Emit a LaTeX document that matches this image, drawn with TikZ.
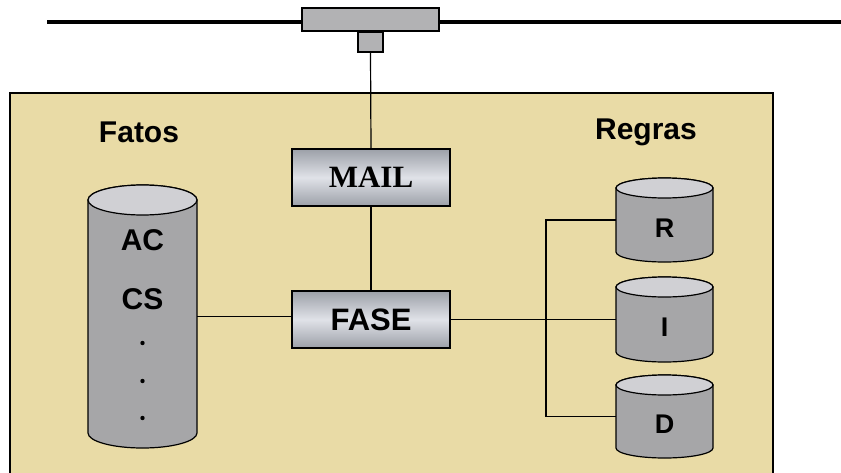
\documentclass[tikz,border=0pt]{standalone}
\usepackage{fontspec}
\setmainfont{Liberation Sans}
\newfontfamily\serifbold{Liberation Serif}
\definecolor{panelfill}{RGB}{233,219,166}
\definecolor{drumbody}{RGB}{166,166,168}
\definecolor{drumtop}{RGB}{208,208,212}
\definecolor{boxdark}{RGB}{156,160,168}
\definecolor{boxlight}{RGB}{224,226,232}
\definecolor{plug}{RGB}{178,178,180}
\tikzset{
  label text/.style={font=\bfseries\fontsize{30}{30}\selectfont, inner sep=0pt},
  drum letter/.style={font=\bfseries\fontsize{27}{27}\selectfont, inner sep=0pt},
  procbox/.style={draw, line width=1.6pt, minimum width=158pt, minimum height=57pt,
    top color=boxdark, bottom color=boxdark, middle color=boxlight, inner sep=0pt},
  drumline/.style={line width=1.2pt},
  wire/.style={line width=1.2pt},
}
% drum (cylinder) drawn around a named rectangular node
% #1 name, #2 cx, #3 cy, #4 half width, #5 half height, #6 end radius
\newcommand\drawdrum[6]{%
  \node[minimum width=2*#4pt, minimum height=2*#5pt, inner sep=0pt] (#1) at (#2,#3) {};
  \draw[drumline, fill=drumbody]
    (#2-#4,#3-#5+#6) -- (#2-#4,#3+#5-#6)
    arc[start angle=180, end angle=360, x radius=#4pt, y radius=#6pt]
    -- (#2+#4,#3-#5+#6)
    arc[start angle=0, end angle=180, x radius=#4pt, y radius=#6pt] -- cycle;
  \draw[drumline, fill=drumtop] (#2,#3-#5+#6) ellipse[x radius=#4pt, y radius=#6pt];
}
\begin{document}
\begin{tikzpicture}[x=1pt,y=-1pt]
\useasboundingbox (0,0) rectangle (841,472);
% backbone line
\coordinate (busL) at (47,22);
\coordinate (busR) at (845,22);
\draw[line width=4.5pt] (busL) -- (busR);
% panel
\draw[line width=1.6pt, fill=panelfill] (10,500) -- (10,93) -- (773,93) -- (773,500);
% connector on the backbone
\node[draw, line width=1.6pt, fill=plug, minimum width=137pt, minimum height=23pt, inner sep=0pt] (tap) at (370.5,19.5) {};
\node[draw, line width=1.6pt, fill=plug, minimum width=25pt, minimum height=20pt, inner sep=0pt, anchor=north] (stub) at (370.5,31) {};
% process boxes
\node[procbox] (mail) at (371,177.5) {\serifbold\bfseries\fontsize{31}{31}\selectfont MAIL};
\node[procbox] (fase) at (371,319.5) {\bfseries\fontsize{31}{31}\selectfont FASE};
% headings
\node[label text] (fatos) at (139,132) {Fatos};
\node[label text] (regras) at (646,132) {Regras};
% facts store
\drawdrum{facts}{142.5}{316.5}{54.5}{131.5}{15}
\node[label text] (ac) at (142.5,240) {AC};
\node[label text] (cs) at (142.5,299) {CS};
\foreach \yy [count=\i] in {343,381,418}
  \fill (142.5,\yy) circle (2.2pt) coordinate (dot\i);
% rule stores
\drawdrum{rr}{664.5}{220}{48.5}{42}{10}
\drawdrum{ri}{664.5}{319.5}{48.5}{42.5}{10}
\drawdrum{rd}{664.5}{416.5}{48.5}{41.5}{10}
\node[drum letter] (lr) at (664.5,228) {R};
\node[drum letter] (li) at (664.5,327) {I};
\node[drum letter] (ld) at (664.5,424) {D};
% wiring
\coordinate (branch) at (546,319.5);
\draw[wire] (stub.south) -- (mail.north);
\draw[wire] (mail.south) -- (fase.north);
\draw[wire] (facts.east) -- (fase.west |- facts.east);
\draw[wire] (fase.east) -- (ri.west);
\draw[wire] (rr.west) -| (branch) |- (rd.west);
\end{tikzpicture}
\end{document}
